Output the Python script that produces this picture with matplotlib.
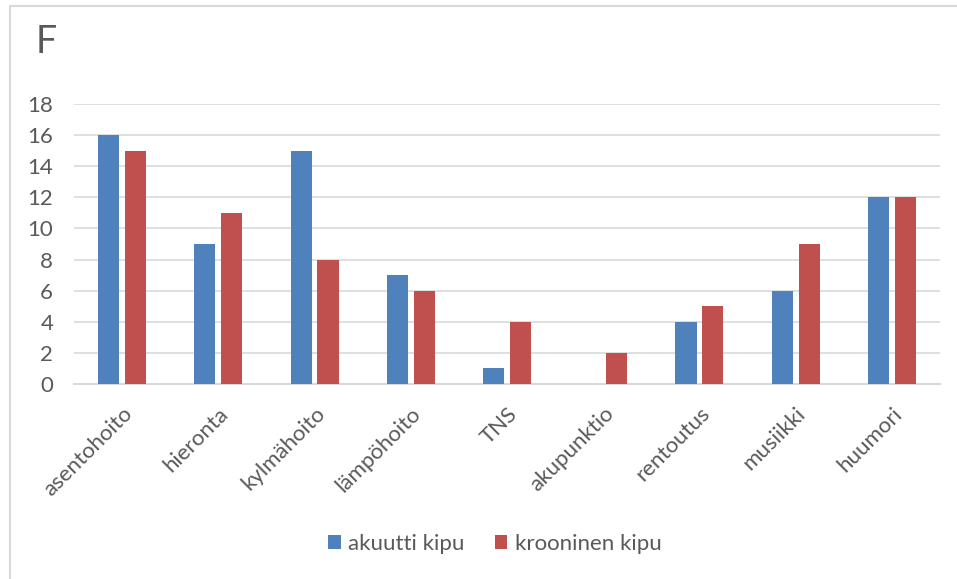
import numpy as np
import matplotlib.pyplot as plt
from matplotlib.patches import Rectangle

plt.rcParams["font.family"] = ["Lato", "DejaVu Sans"]

categories = ["asentohoito", "hieronta", "kylmähoito", "lämpöhoito", "TNS",
              "akupunktio", "rentoutus", "musiikki", "huumori"]
akuutti = [16, 9, 15, 7, 1, 0, 4, 6, 12]
krooninen = [15, 11, 8, 6, 4, 2, 5, 9, 12]
series_names = ["akuutti kipu", "krooninen kipu"]

blue = "#4F81BD"
red = "#C0504D"
txt = "#595959"
grid = "#D9D9D9"

fig = plt.figure(figsize=(9.57, 5.79), dpi=100)
ax = fig.add_axes([74 / 957, 1 - 384 / 579, (940 - 74) / 957, (384 - 104) / 579])

x = np.arange(len(categories))
w = 0.22
ax.bar(x - 0.14, akuutti, w, color=blue, label=series_names[0], zorder=3)
ax.bar(x + 0.14, krooninen, w, color=red, label=series_names[1], zorder=3)

ax.set_xlim(-0.5, len(categories) - 0.5)
ax.set_ylim(0, 18)
ax.set_yticks(range(0, 19, 2))
ax.yaxis.grid(True, color=grid, linewidth=1.2, zorder=0)
ax.set_axisbelow(True)
for s in ["top", "right", "left"]:
    ax.spines[s].set_visible(False)
ax.spines["bottom"].set_color(grid)
ax.spines["bottom"].set_linewidth(1.5)
ax.tick_params(axis="both", length=0, labelsize=16, colors=txt)
ax.tick_params(axis="y", pad=15)
ax.set_xticks(x)
ax.set_xticklabels(categories, rotation=45, ha="right", rotation_mode="anchor")
ax.tick_params(axis="x", pad=14)

fig.text(36 / 957, 1 - 42 / 579, "F", fontsize=27, color=txt, va="center", ha="left")

leg = fig.legend(loc="center", bbox_to_anchor=(495 / 957, 1 - 544 / 579), ncol=2,
                 frameon=False, fontsize=16, handlelength=0.55, handleheight=0.55,
                 columnspacing=1.35, handletextpad=0.35)
for t in leg.get_texts():
    t.set_color(txt)

# chart frame
fig.patches.append(Rectangle((10 / 957, -0.1), 1.2, 1 - 6 / 579 + 0.1,
                             transform=fig.transFigure, fill=False,
                             edgecolor=grid, linewidth=1.5))

fig.savefig("out.png", dpi=100)
